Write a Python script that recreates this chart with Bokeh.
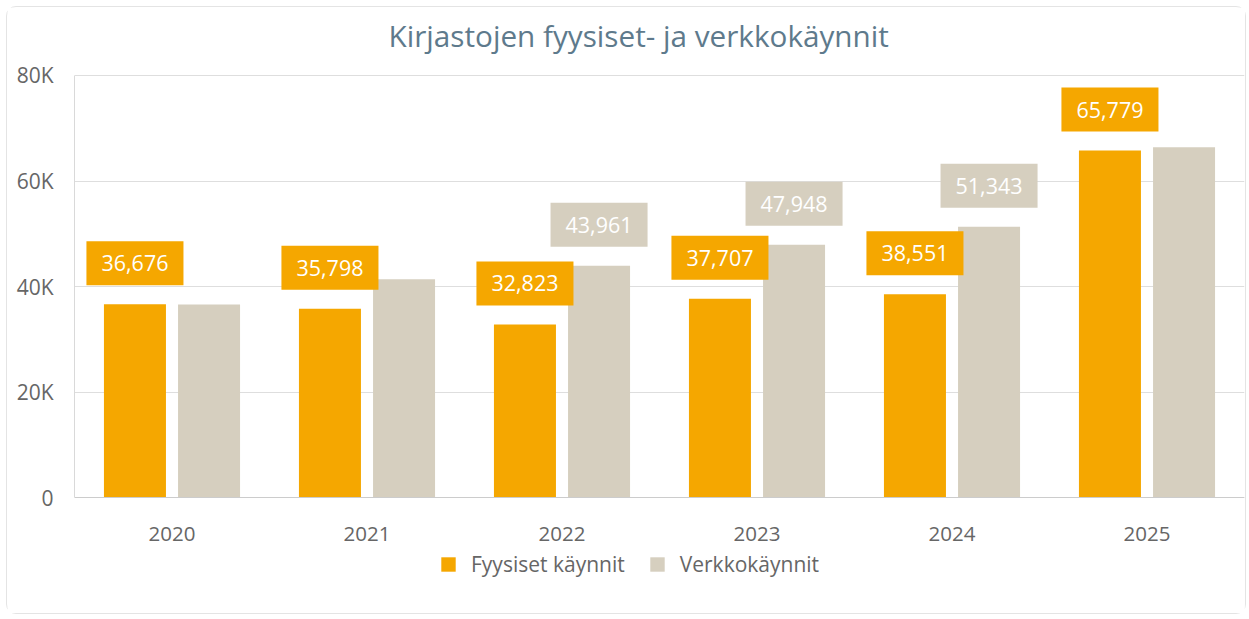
from bokeh.plotting import figure
from bokeh.models import (ColumnDataSource, FactorRange, Range1d, Label, Legend,
                          LegendItem, FixedTicker)
from bokeh.transform import dodge
from bokeh.embed import file_html
from bokeh.resources import INLINE

# ---- data ----
years = ["2020", "2021", "2022", "2023", "2024", "2025"]
fyysiset = [36676, 35798, 32823, 37707, 38551, 65779]
verkko = [36600, 41400, 43961, 47948, 51343, 66400]
verkko_label_shown = [False, False, True, True, True, False]
series_names = ["Fyysiset käynnit", "Verkkokäynnit"]
y_ticks = [0, 20000, 40000, 60000, 80000]
y_tick_labels = ["0", "20K", "40K", "60K", "80K"]
title_text = "Kirjastojen fyysiset- ja verkkokäynnit"

ORANGE = "#F5A700"
BEIGE = "#D6CFBF"
FONT = "Open Sans"
AXIS_TEXT = "#666666"

src = ColumnDataSource(dict(year=years, fy=fyysiset, ve=verkko))

xr = FactorRange(*years, range_padding=0, factor_padding=0)
# frame extends a little above the top gridline and down to the legend area
p = figure(width=1240, height=608, x_range=xr,
           y_range=Range1d(-22317, 82648), output_backend="svg",
           toolbar_location=None, min_border_left=67, min_border_right=3,
           min_border_top=53, min_border_bottom=0)
p.margin = (6, 0, 0, 6)
p.styles = {"border": "1px solid #e4e4e4", "border-radius": "10px"}
p.outline_line_color = None

p.title.text = title_text
p.title.align = "left"
p.title.text_font = FONT
p.title.text_font_size = "29.7px"
p.title.text_font_style = "normal"
p.title.text_color = "#5E7A8C"
p.title.standoff = 11
p.title.offset = 314

off = 0.19
bw = 0.318
r1 = p.vbar(x=dodge("year", -off, range=p.x_range), top="fy", width=bw,
            source=src, color=ORANGE, line_color=None)
r2 = p.vbar(x=dodge("year", off, range=p.x_range), top="ve", width=bw,
            source=src, color=BEIGE, line_color=None)

# synthetic coordinate of a factor's centre on the categorical range
def cat_x(yr):
    return years.index(yr) + 0.5

pad = dict(left=15, right=15, top=14, bottom=14)
lab_style = dict(y_offset=19, text_align="center", text_baseline="bottom",
                 text_color="white", text_font=FONT, text_font_size="21.5px",
                 padding=pad)
for yr, v in zip(years, fyysiset):
    p.add_layout(Label(x=cat_x(yr) - off, y=v, text=f"{v:,}",
                       background_fill_color=ORANGE, **lab_style))
for yr, v, show in zip(years, verkko, verkko_label_shown):
    if show:
        p.add_layout(Label(x=cat_x(yr) + off, y=v, text=f"{v:,}",
                           background_fill_color=BEIGE, **lab_style))

p.xgrid.grid_line_color = None
p.ygrid.grid_line_color = "#dedede"
p.ygrid.grid_line_width = 1

p.yaxis.ticker = FixedTicker(ticks=y_ticks)
p.yaxis.major_label_overrides = dict(zip(y_ticks, y_tick_labels))
p.yaxis.bounds = (y_ticks[0], y_ticks[-1])
p.yaxis.axis_line_color = "#d9d9d9"
p.yaxis.major_label_standoff = 21
p.yaxis.major_label_text_font_size = "21px"

p.xaxis.fixed_location = 0
p.xaxis.axis_line_color = "#cccccc"
p.xaxis.major_label_standoff = 29
p.xaxis.major_label_text_font_size = "20.5px"

for ax in (p.xaxis[0], p.yaxis[0]):
    ax.major_tick_line_color = None
    ax.minor_tick_line_color = None
    ax.major_tick_out = 0
    ax.major_tick_in = 0
    ax.major_label_text_font = FONT
    ax.major_label_text_color = AXIS_TEXT

legend = Legend(items=[LegendItem(label=series_names[0], renderers=[r1]),
                       LegendItem(label=series_names[1], renderers=[r2])],
                orientation="horizontal", location=(365, 37),
                glyph_width=18, glyph_height=18, label_text_font=FONT,
                label_text_font_size="21px", label_text_color=AXIS_TEXT,
                spacing=23, label_standoff=14, border_line_color=None,
                background_fill_alpha=0, padding=0, margin=0)
p.add_layout(legend, "center")

open("out.html", "w").write(file_html(p, INLINE))
